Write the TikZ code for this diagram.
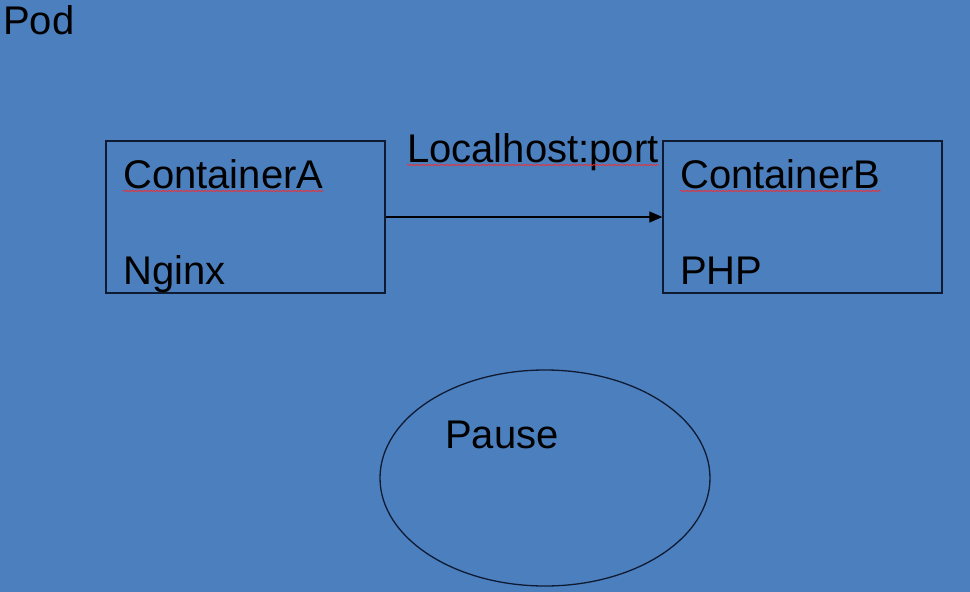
\documentclass[tikz,border=0pt]{standalone}
\usepackage{fontspec}
\setmainfont{Liberation Sans}
\usetikzlibrary{shapes.geometric,arrows.meta,decorations.pathmorphing}
\definecolor{bgblue}{HTML}{4B7FBE}
\definecolor{edge}{HTML}{0F1A33}
\tikzset{
  lbl/.style={anchor=base west,inner sep=0pt,text=black,font=\fontsize{40}{48}\selectfont},
  cbox/.style={draw=edge,line width=1.3pt,minimum width=279pt,minimum height=152pt,inner sep=0pt},
  oval/.style={ellipse,draw=edge,line width=1.3pt,minimum width=330pt,minimum height=216pt,inner sep=0pt},
  conn/.style={draw=black,line width=1.2pt,-{Triangle[length=13pt,width=11pt]}},
  squig/.style={draw=red!85!white,line width=0.6pt,decorate,decoration={snake,amplitude=0.8pt,segment length=3pt}}
}
\begin{document}
\begin{tikzpicture}[x=1pt,y=-1pt]
\useasboundingbox (0,0) rectangle (970,592);
\fill[bgblue] (0,0) rectangle (970,592);
\node[cbox] (A) at (245.5,217) {};
\node[cbox] (B) at (802.5,217) {};
\node[oval] (P) at (545,478) {};
\draw[conn] (A.east) -- (B.west);
\node[lbl] (pod) at (3,34) {Pod};
\node[lbl] (tA) at (123,188) {ContainerA};
\node[lbl] (nA) at (123,284) {Nginx};
\node[lbl] (tB) at (680,188) {ContainerB};
\node[lbl] (nB) at (680,284) {PHP};
\node[lbl] (lh) at (407,162) {Localhost:port};
\node[lbl] (pa) at (445,448) {Pause};
\draw[squig] ([yshift=-3pt]tA.base west) -- ([yshift=-3pt]tA.base east);
\draw[squig] ([yshift=-3pt]tB.base west) -- ([yshift=-3pt]tB.base east);
\draw[squig] ([yshift=-3pt]lh.base west) -- ([yshift=-3pt]lh.base east);
\end{tikzpicture}
\end{document}
